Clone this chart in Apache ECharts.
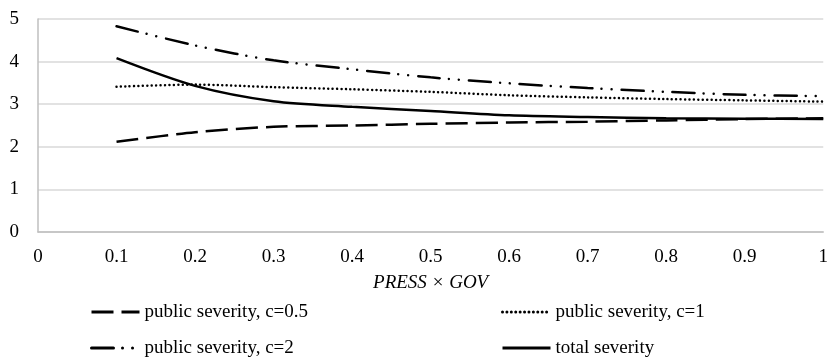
<!DOCTYPE html>
<html>
<head>
<meta charset="utf-8">
<script src="https://cdn.jsdelivr.net/npm/echarts@6/dist/echarts.min.js"></script>
<style>
html,body{margin:0;padding:0;background:#fff;}
#chart{width:831px;height:360px;}
</style>
</head>
<body>
<div id="chart"></div>
<script>
var xValues = [0.1, 0.2, 0.3, 0.4, 0.5, 0.6, 0.7, 0.8, 0.9, 1.0];
var publicC05 = [2.12, 2.34, 2.47, 2.50, 2.54, 2.57, 2.59, 2.62, 2.65, 2.67];
var publicC1 = [3.41, 3.46, 3.40, 3.35, 3.29, 3.21, 3.16, 3.12, 3.09, 3.06];
var publicC2 = [4.83, 4.38, 4.03, 3.82, 3.63, 3.49, 3.38, 3.29, 3.22, 3.19];
var totalSeverity = [4.08, 3.43, 3.07, 2.94, 2.84, 2.74, 2.70, 2.67, 2.66, 2.65];
var seriesNames = ['public severity, c=0.5', 'public severity, c=1', 'public severity, c=2', 'total severity'];
var xAxisTitle = 'PRESS × GOV';

function pairs(ys){ return xValues.map(function(x,i){ return [x, ys[i]]; }); }

var FONT = '"Liberation Serif", "Times New Roman", serif';
var dashStyles = [[22, 8], [0.01, 4.4], [22, 9, 0.01, 10, 0.01, 10], null];
var widths = [2.5, 2.5, 2.5, 2.5];
var datasets = [publicC05, publicC1, publicC2, totalSeverity];

var series = seriesNames.map(function(n, i){
  return {
    name: n, type: 'line', data: pairs(datasets[i]),
    smooth: 0.3, showSymbol: false, symbol: 'none',
    lineStyle: { color: '#000', width: widths[i], type: dashStyles[i] || 'solid', cap: (i === 1 || i === 2) ? 'round' : 'butt' },
    itemStyle: { color: '#000' }
  };
});

function legendAt(name, idx, left, top){
  return {
    data: [name], left: left, top: top, orient: 'horizontal',
    itemWidth: 48, itemHeight: 14, itemGap: 0, padding: 0,
    itemStyle: { opacity: 0 },
    lineStyle: { width: 3, color: '#000', type: dashStyles[idx] || 'solid', cap: (idx === 1 || idx === 2) ? 'round' : 'butt' },
    textStyle: { fontFamily: FONT, fontSize: 19, color: '#000', lineHeight: 20 }
  };
}

var chart = echarts.init(document.getElementById('chart'), null, {renderer: 'canvas'});
chart.setOption({
  animation: false,
  backgroundColor: '#fff',
  grid: { left: 38, right: 5, top: 19, bottom: 128, containLabel: false },
  legend: [
    legendAt(seriesNames[0], 0, 90, 302),
    legendAt(seriesNames[1], 1, 501, 302),
    legendAt(seriesNames[2], 2, 90, 338),
    legendAt(seriesNames[3], 3, 501, 338)
  ],
  xAxis: {
    type: 'value', min: 0, max: 1, interval: 0.1,
    name: xAxisTitle, nameLocation: 'middle', nameGap: 41,
    nameTextStyle: { fontFamily: FONT, fontSize: 19, fontStyle: 'italic', color: '#000' },
    axisLine: { show: true, lineStyle: { color: '#bfbfbf', width: 1.5 } },
    axisTick: { show: false },
    splitLine: { show: false },
    axisLabel: { fontFamily: FONT, fontSize: 19, color: '#000', margin: 16,
      formatter: function(v){ return String(+v.toFixed(1)); } }
  },
  yAxis: {
    type: 'value', min: 0, max: 5, interval: 1,
    axisLine: { show: true, lineStyle: { color: '#bfbfbf', width: 1.5 } },
    axisTick: { show: false },
    splitLine: { show: true, lineStyle: { color: '#d9d9d9', width: 1.5 } },
    axisLabel: { fontFamily: FONT, fontSize: 19, color: '#000', margin: 19 }
  },
  series: series
});
</script>
</body>
</html>
